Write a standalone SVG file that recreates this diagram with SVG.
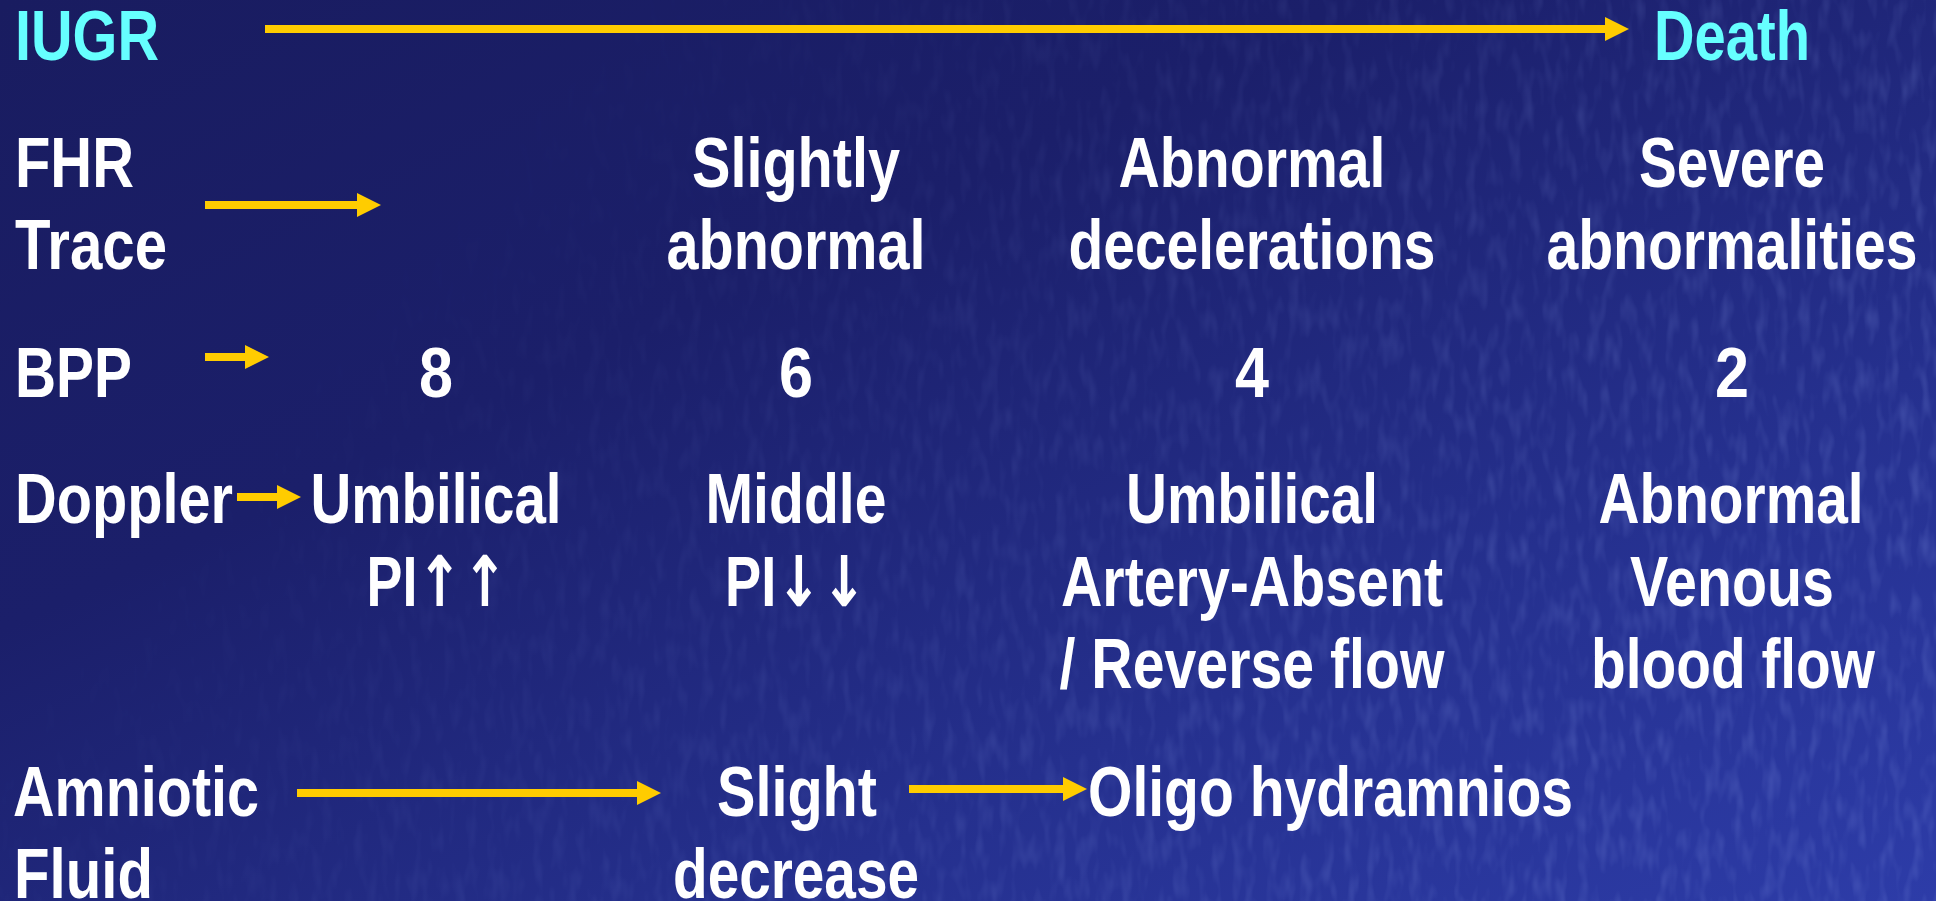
<svg xmlns="http://www.w3.org/2000/svg" width="1936" height="901" viewBox="0 0 1936 901">
<defs>
<linearGradient id="bg" x1="0" y1="0" x2="1" y2="1">
<stop offset="0" stop-color="#191c60"/>
<stop offset="0.35" stop-color="#1b1f6a"/>
<stop offset="0.7" stop-color="#25308e"/>
<stop offset="1" stop-color="#2d3ca8"/>
</linearGradient>
<linearGradient id="fade" x1="0" y1="0" x2="1" y2="0.4">
<stop offset="0.25" stop-color="#fff" stop-opacity="0"/>
<stop offset="1" stop-color="#fff" stop-opacity="1"/>
</linearGradient>
<mask id="texmask"><rect width="1936" height="901" fill="url(#fade)"/></mask>
<filter id="tex" x="0" y="0" width="100%" height="100%">
<feTurbulence type="fractalNoise" baseFrequency="0.09 0.03" numOctaves="2" seed="3"/>
<feColorMatrix type="matrix" values="0 0 0 0 0.35  0 0 0 0 0.45  0 0 0 0 0.95  0 0 0 1.2 -0.55"/>
</filter>
<marker id="ah" markerUnits="userSpaceOnUse" markerWidth="24" markerHeight="24" refX="0" refY="12" orient="auto">
<path d="M0,0 L24,12 L0,24 Z" fill="#ffcc00"/>
</marker>
<style>
text{font-family:"Liberation Sans Narrow","Liberation Sans",Arial,sans-serif;font-weight:bold;font-size:70px;fill:#ffffff}
.c{text-anchor:middle}
.cy{fill:#66ffff}
.big{font-family:"DejaVu Sans",sans-serif;font-size:70px}
.arr{stroke:#ffcc00;stroke-width:8;fill:none;marker-end:url(#ah)}
</style>
</defs>
<rect width="1936" height="901" fill="url(#bg)"/>
<rect width="1936" height="901" filter="url(#tex)" mask="url(#texmask)" opacity="0.35"/>

<g id="connectors">
<line class="arr" x1="265" y1="29" x2="1605" y2="29"/>
<line class="arr" x1="205" y1="205" x2="357" y2="205"/>
<line class="arr" x1="205" y1="357" x2="245" y2="357"/>
<line class="arr" x1="237" y1="497" x2="277" y2="497"/>
<line class="arr" x1="297" y1="793" x2="637" y2="793"/>
<line class="arr" x1="909" y1="789" x2="1063" y2="789"/>
</g>

<g id="iugr"><text class="cy" x="15" y="60" textLength="144" lengthAdjust="spacingAndGlyphs">IUGR</text></g>
<g id="death"><text class="cy" x="1654" y="60" textLength="156" lengthAdjust="spacingAndGlyphs">Death</text></g>

<g id="fhr-label">
<text x="15" y="187" textLength="119" lengthAdjust="spacingAndGlyphs">FHR</text>
<text x="15" y="269" textLength="152" lengthAdjust="spacingAndGlyphs">Trace</text>
</g>
<g id="fhr-slightly">
<text class="c" x="796" y="187" textLength="208" lengthAdjust="spacingAndGlyphs">Slightly</text>
<text class="c" x="796" y="269" textLength="259" lengthAdjust="spacingAndGlyphs">abnormal</text>
</g>
<g id="fhr-abnormal">
<text class="c" x="1252" y="187" textLength="267" lengthAdjust="spacingAndGlyphs">Abnormal</text>
<text class="c" x="1252" y="269" textLength="367" lengthAdjust="spacingAndGlyphs">decelerations</text>
</g>
<g id="fhr-severe">
<text class="c" x="1732" y="187" textLength="186" lengthAdjust="spacingAndGlyphs">Severe</text>
<text class="c" x="1732" y="269" textLength="371" lengthAdjust="spacingAndGlyphs">abnormalities</text>
</g>

<g id="bpp-label"><text x="15" y="397" textLength="117" lengthAdjust="spacingAndGlyphs">BPP</text></g>
<g id="bpp-8"><text class="c" x="436" y="397" textLength="34" lengthAdjust="spacingAndGlyphs">8</text></g>
<g id="bpp-6"><text class="c" x="796" y="397" textLength="34" lengthAdjust="spacingAndGlyphs">6</text></g>
<g id="bpp-4"><text class="c" x="1252" y="397" textLength="34" lengthAdjust="spacingAndGlyphs">4</text></g>
<g id="bpp-2"><text class="c" x="1732" y="397" textLength="34" lengthAdjust="spacingAndGlyphs">2</text></g>

<g id="doppler-label"><text x="15" y="523" textLength="218" lengthAdjust="spacingAndGlyphs">Doppler</text></g>
<g id="doppler-umbilical">
<text class="c" x="436" y="523" textLength="251" lengthAdjust="spacingAndGlyphs">Umbilical</text>
<text class="c" x="437" y="606" textLength="141" lengthAdjust="spacingAndGlyphs">PI<tspan class="big">↑↑</tspan></text>
</g>
<g id="doppler-middle">
<text class="c" x="796" y="523" textLength="181" lengthAdjust="spacingAndGlyphs">Middle</text>
<text class="c" x="796" y="606" textLength="142" lengthAdjust="spacingAndGlyphs">PI<tspan class="big">↓↓</tspan></text>
</g>
<g id="doppler-artery">
<text class="c" x="1252" y="523" textLength="252" lengthAdjust="spacingAndGlyphs">Umbilical</text>
<text class="c" x="1252" y="606" textLength="382" lengthAdjust="spacingAndGlyphs">Artery-Absent</text>
<text class="c" x="1252" y="688" textLength="385" lengthAdjust="spacingAndGlyphs">/ Reverse flow</text>
</g>
<g id="doppler-venous">
<text class="c" x="1731" y="523" textLength="265" lengthAdjust="spacingAndGlyphs">Abnormal</text>
<text class="c" x="1732" y="606" textLength="204" lengthAdjust="spacingAndGlyphs">Venous</text>
<text class="c" x="1733" y="688" textLength="284" lengthAdjust="spacingAndGlyphs">blood flow</text>
</g>

<g id="af-label">
<text x="13" y="816" textLength="246" lengthAdjust="spacingAndGlyphs">Amniotic</text>
<text x="14" y="898" textLength="139" lengthAdjust="spacingAndGlyphs">Fluid</text>
</g>
<g id="af-slight">
<text class="c" x="797" y="816" textLength="160" lengthAdjust="spacingAndGlyphs">Slight</text>
<text class="c" x="796" y="898" textLength="246" lengthAdjust="spacingAndGlyphs">decrease</text>
</g>
<g id="af-oligo"><text x="1088" y="816" textLength="485" lengthAdjust="spacingAndGlyphs">Oligo hydramnios</text></g>
</svg>
